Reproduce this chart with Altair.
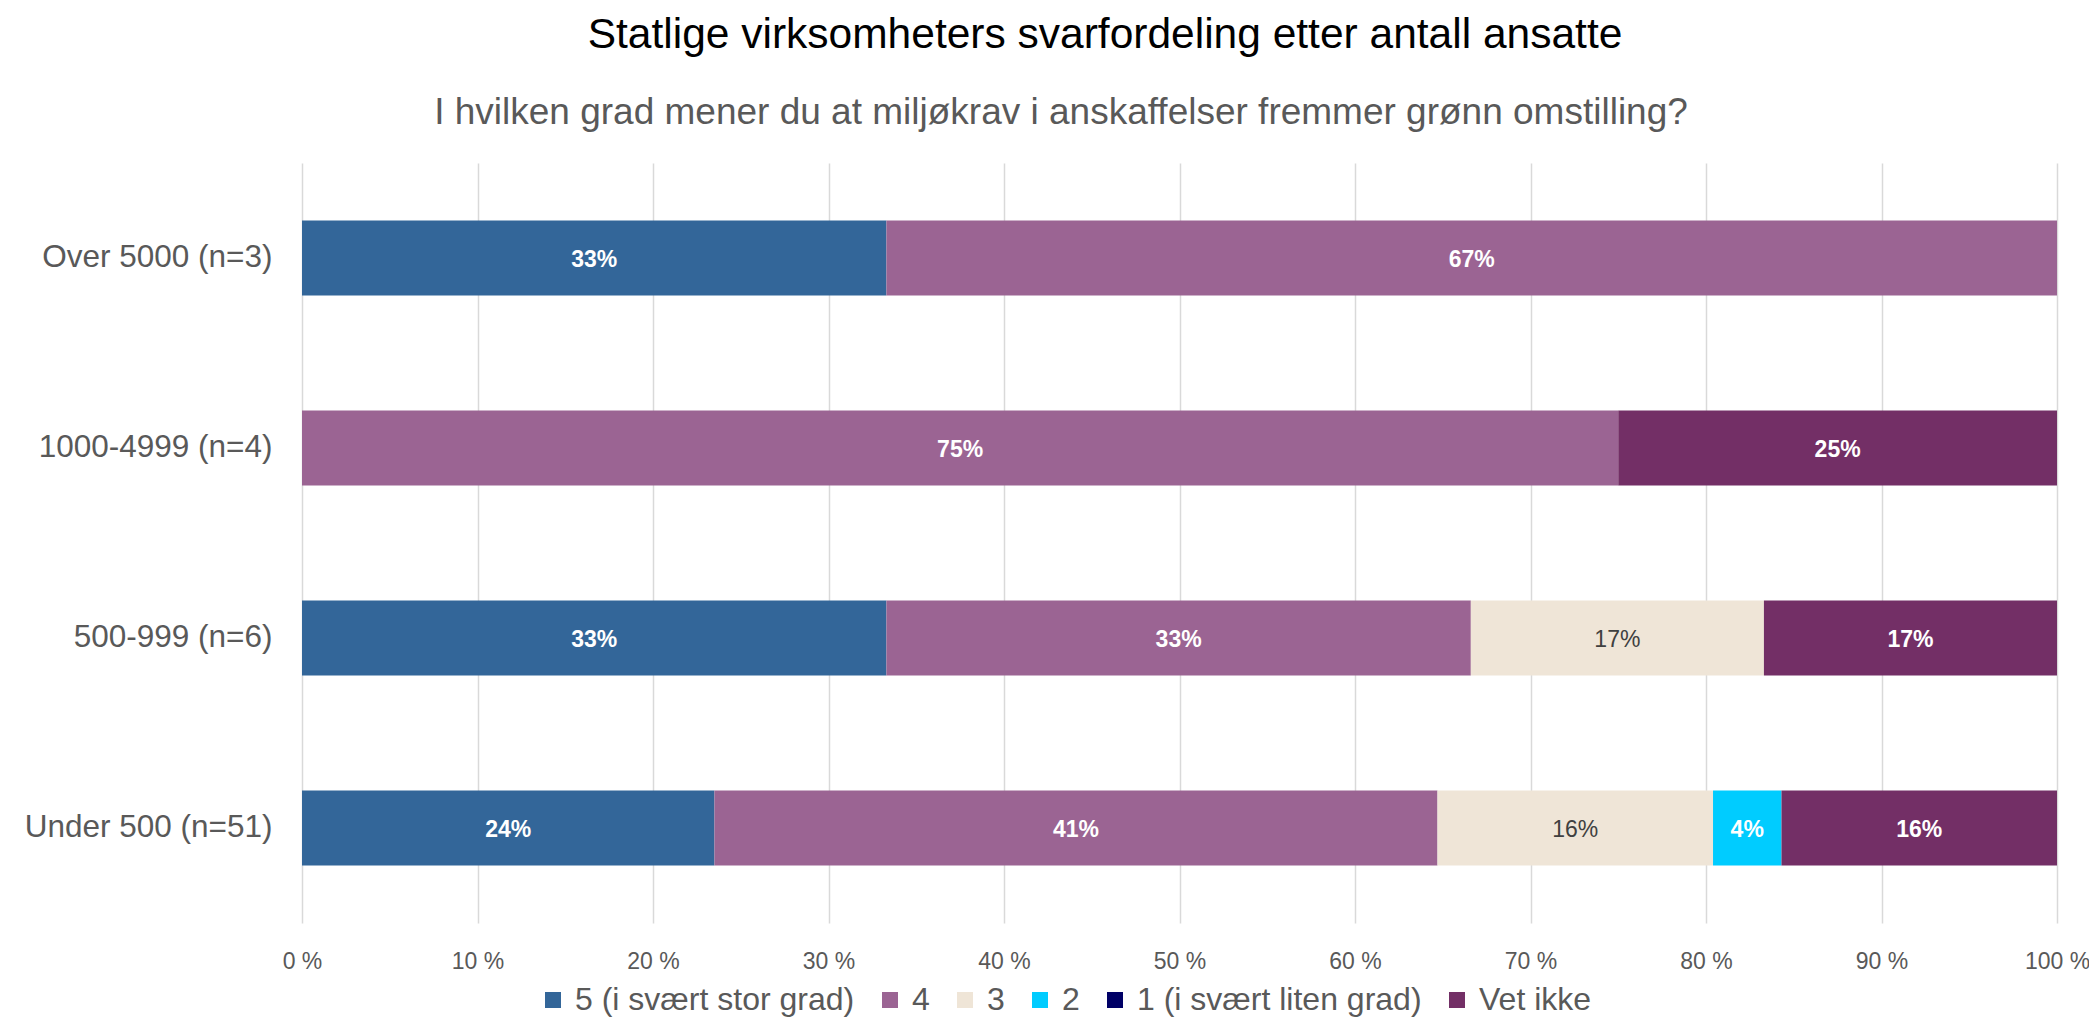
import altair as alt
import pandas as pd

title_text = "Statlige virksomheters svarfordeling etter antall ansatte"
subtitle_text = "I hvilken grad mener du at miljøkrav i anskaffelser fremmer grønn omstilling?"

categories = ["Over 5000 (n=3)", "1000-4999 (n=4)", "500-999 (n=6)", "Under 500 (n=51)"]
responses = ["5 (i svært stor grad)", "4", "3", "2", "1 (i svært liten grad)", "Vet ikke"]
colors = ["#336699", "#9B6493", "#EFE5D7", "#00CCFF", "#000066", "#732F66"]

share_5 = [33.3, 0.0, 33.3, 23.5]
share_4 = [66.7, 75.0, 33.3, 41.2]
share_3 = [0.0, 0.0, 16.7, 15.7]
share_2 = [0.0, 0.0, 0.0, 3.9]
share_1 = [0.0, 0.0, 0.0, 0.0]
share_vet = [0.0, 25.0, 16.7, 15.7]

x_ticks = [0, 10, 20, 30, 40, 50, 60, 70, 80, 90, 100]

series = [share_5, share_4, share_3, share_2, share_1, share_vet]
rows = []
for ri, (resp, vals) in enumerate(zip(responses, series)):
    for cat, v in zip(categories, vals):
        rows.append({"category": cat, "response": resp, "order": ri,
                     "value": v, "label": f"{int(v + 0.5)}%"})
df = pd.DataFrame(rows)

FONT = "Liberation Sans"

base = alt.Chart(df).transform_filter("datum.value > 0").transform_stack(
    stack="value", as_=["x0", "x1"], groupby=["category"],
    sort=[alt.SortField("order", order="ascending")]
).transform_calculate(mid="(datum.x0 + datum.x1) / 2")

y_enc = alt.Y("category:N", sort=categories, title=None,
              scale=alt.Scale(paddingInner=0.605, paddingOuter=0.3025),
              axis=alt.Axis(labelFont=FONT, labelFontSize=31.5, labelColor="#595959",
                            labelPadding=30, ticks=False, domain=False, grid=False,
                            labelLimit=400))

bars = base.mark_bar().encode(
    x=alt.X("x0:Q", scale=alt.Scale(domain=[0, 100], nice=False), title=None,
            axis=alt.Axis(values=x_ticks, labelExpr="datum.value + ' %'",
                          labelFont=FONT, labelFontSize=23, labelColor="#595959",
                          labelPadding=27, labelFlush=False, ticks=False, domain=False,
                          grid=True, gridColor="#D9D9D9", gridWidth=1.5)),
    x2="x1:Q",
    y=y_enc,
    color=alt.Color("response:N", scale=alt.Scale(domain=responses, range=colors),
                    legend=alt.Legend(title=None, orient="none", legendX=235, legendY=821,
                                      direction="horizontal", symbolType="square",
                                      symbolSize=256, symbolStrokeWidth=0,
                                      labelFont=FONT, labelFontSize=32,
                                      labelColor="#595959", labelOffset=6,
                                      columnPadding=19, padding=0, labelLimit=0)),
    order=alt.Order("order:Q"),
)

labels_white = base.transform_filter("datum.response != '3'").mark_text(
    font=FONT, fontSize=23, fontWeight="bold", color="white", baseline="middle", dy=2
).encode(x="mid:Q", y=alt.Y("category:N", sort=categories), text="label:N")

labels_dark = base.transform_filter("datum.response == '3'").mark_text(
    font=FONT, fontSize=23, color="#404040", baseline="middle", dy=2
).encode(x="mid:Q", y=alt.Y("category:N", sort=categories), text="label:N")

title = alt.Chart(pd.DataFrame({"t": [title_text]})).mark_text(
    font=FONT, fontSize=42.5, color="black", align="center", baseline="alphabetic"
).encode(x=alt.value(803), y=alt.value(-115), text="t:N")

subtitle = alt.Chart(pd.DataFrame({"t": [subtitle_text]})).mark_text(
    font=FONT, fontSize=37, color="#595959", align="center", baseline="alphabetic"
).encode(x=alt.value(759), y=alt.value(-39), text="t:N")

chart = alt.layer(bars, labels_white, labels_dark, title, subtitle).properties(
    width=1755, height=760,
    autosize=alt.AutoSizeParams(type="none"),
    padding={"left": 294, "top": 155, "right": 32, "bottom": 95},
).configure(background="white").configure_view(stroke=None)

chart.save("out.html", embed_options={"renderer": "svg", "actions": False})
